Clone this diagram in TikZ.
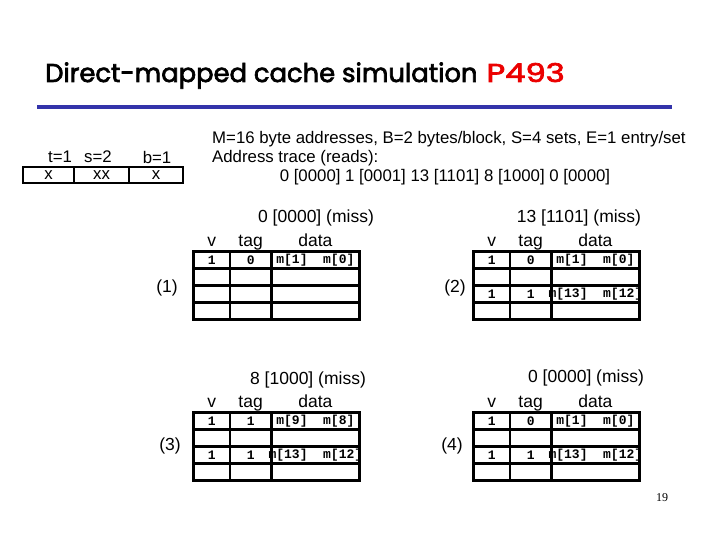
\documentclass[tikz,border=0pt]{standalone}
\usepackage{fontspec}
\setmainfont{Liberation Sans}
\newfontfamily\titlefont[FakeBold=2.6]{Poppins}
\newfontfamily\cellfont{Liberation Mono}
\newfontfamily\pagefont{Liberation Serif}
\usetikzlibrary{matrix}
\definecolor{rulecol}{RGB}{51,51,170}
\definecolor{titlered}{RGB}{235,0,0}
\tikzset{
  cachetab/.style={matrix of nodes, nodes in empty cells, anchor=north west,
    inner sep=0pt, outer sep=0pt, column sep=-2.8pt, row sep=-2.8pt,
    nodes={draw, line width=2.8pt, minimum height=17pt, inner sep=0pt, outer sep=0pt,
      anchor=center, font=\cellfont\bfseries\fontsize{13}{13}\selectfont},
    column 1/.style={nodes={minimum width=36.5pt}},
    column 2/.style={nodes={minimum width=41.5pt}},
    column 3/.style={nodes={minimum width=88pt}}},
  hdr/.style={font=\fontsize{17.5}{17.5}\selectfont, inner sep=0pt, anchor=base},
  txt/.style={font=\fontsize{16.8}{16.8}\selectfont, inner sep=0pt},
  miss/.style={font=\fontsize{17.5}{17.5}\selectfont, inner sep=0pt},
  bitcell/.style={draw, line width=1.3pt, minimum height=16pt, inner sep=0pt,
    font=\fontsize{16.8}{16.8}\selectfont}
}
\newcommand{\dcell}[1]{\makebox[0pt]{#1}}
\begin{document}
\begin{tikzpicture}[x=1pt,y=-1pt]
\useasboundingbox (0,0) rectangle (720,540);
% title
\node[anchor=base west, inner sep=0pt, font=\titlefont\fontsize{25.8}{25.8}\selectfont] (title) at (45,82)
  {Direct-mapped cache simulation\hspace{9pt}\textcolor{titlered}{\scalebox{1.25}[1]{P493}}};
\coordinate (rl) at (37,107);
\coordinate (rr) at (672,107);
\draw[rulecol, line width=4pt] (rl) -- (rr);
% address bits
\node[txt] (lt) at (60,157) {t=1};
\node[txt] (ls) at (98,157) {s=2};
\node[txt] (lb) at (157,157) {b=1};
\node[bitcell, minimum width=51pt] (a1) at (48.5,175) {x};
\node[bitcell, minimum width=55pt] (a2) at (101.5,175) {xx};
\node[bitcell, minimum width=54pt] (a3) at (156,175) {x};
% description
\node[txt, anchor=west] (d1) at (212,139) {M=16 byte addresses, B=2 bytes/block, S=4 sets, E=1 entry/set};
\node[txt, anchor=west] (d2) at (212,158) {Address trace (reads):};
\node[txt] (d3) at (445,177) {0 [0000] 1 [0001] 13 [1101] 8 [1000] 0 [0000]};
% table 1
\node[miss] (c1) at (316,218) {0 [0000] (miss)};
\matrix[cachetab] (t1) at (192,250) {
1 & 0 & \dcell{m[1]~~m[0]} \\
  &   & \\
  &   & \\
  &   & \\
};
\node[hdr] (t1v) at ([yshift=5pt]t1-1-1.north) {v};
\node[hdr] (t1t) at ([yshift=5pt]t1-1-2.north) {tag};
\node[hdr] (t1d) at ([yshift=5pt]t1-1-3.north) {data};
\node[miss] (n1) at (167,288) {(1)};
% table 2
\node[miss] (c2) at (579,218) {13 [1101] (miss)};
\matrix[cachetab] (t2) at (472,250) {
1 & 0 & \dcell{m[1]~~m[0]} \\
  &   & \\
1 & 1 & \dcell{m[13]~~m[12]} \\
  &   & \\
};
\node[hdr] (t2v) at ([yshift=5pt]t2-1-1.north) {v};
\node[hdr] (t2t) at ([yshift=5pt]t2-1-2.north) {tag};
\node[hdr] (t2d) at ([yshift=5pt]t2-1-3.north) {data};
\node[miss] (n2) at (455,288) {(2)};
% table 3
\node[miss] (c3) at (308,380) {8 [1000] (miss)};
\matrix[cachetab] (t3) at (192,411) {
1 & 1 & \dcell{m[9]~~m[8]} \\
  &   & \\
1 & 1 & \dcell{m[13]~~m[12]} \\
  &   & \\
};
\node[hdr] (t3v) at ([yshift=5pt]t3-1-1.north) {v};
\node[hdr] (t3t) at ([yshift=5pt]t3-1-2.north) {tag};
\node[hdr] (t3d) at ([yshift=5pt]t3-1-3.north) {data};
\node[miss] (n3) at (170,446) {(3)};
% table 4
\node[miss] (c4) at (586,378) {0 [0000] (miss)};
\matrix[cachetab] (t4) at (472,411) {
1 & 0 & \dcell{m[1]~~m[0]} \\
  &   & \\
1 & 1 & \dcell{m[13]~~m[12]} \\
  &   & \\
};
\node[hdr] (t4v) at ([yshift=5pt]t4-1-1.north) {v};
\node[hdr] (t4t) at ([yshift=5pt]t4-1-2.north) {tag};
\node[hdr] (t4d) at ([yshift=5pt]t4-1-3.north) {data};
\node[miss] (n4) at (452,446) {(4)};
% page number
\node[inner sep=0pt, font=\pagefont\fontsize{12}{12}\selectfont] (pg) at (662,498) {19};
\end{tikzpicture}
\end{document}
